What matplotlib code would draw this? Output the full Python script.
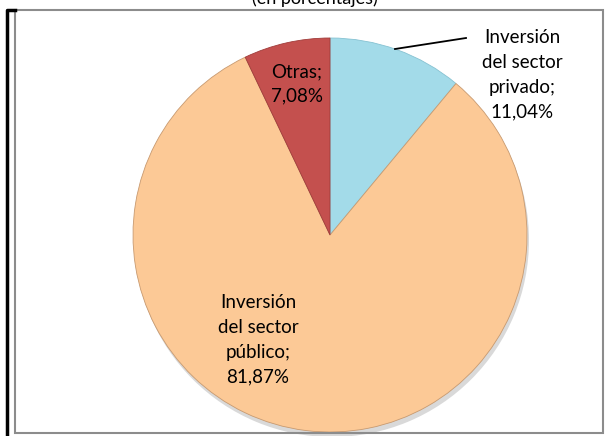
import matplotlib.pyplot as plt
from matplotlib.patches import Rectangle

labels = ["Inversión\ndel sector\nprivado;", "Inversión\ndel sector\npúblico;", "Otras;"]
values = [11.04, 81.87, 7.08]
colors = ["#a3dbe9", "#fcc996", "#c4504e"]

plt.rcParams["font.family"] = ["Lato", "DejaVu Sans"]

W, H = 607, 436
fig = plt.figure(figsize=(W / 100, H / 100), dpi=100)
ax = fig.add_axes([0, 0, 1, 1])

# soft shadow under the pie
cx, cy, r = 330, H - 235, 197
ax.pie([1], colors=["#d9d9d9"], radius=r, center=(cx + 2, cy - 5),
       wedgeprops=dict(linewidth=0), frame=True)
wedges, _ = ax.pie(values, colors=colors, radius=r, center=(cx, cy),
                   startangle=90, counterclock=False, frame=True,
                   wedgeprops=dict(edgecolor="#c89a70", linewidth=0.6))
wedges[0].set_edgecolor("#86c2d2")
wedges[2].set_edgecolor("#a03c3a")

ax.set_xlim(0, W)
ax.set_ylim(0, H)
ax.set_aspect("equal")
ax.axis("off")

# frame
ax.add_patch(Rectangle((15, 3), 588, 423, fill=False, edgecolor="#8c8c8c", lw=1.5))
ax.plot([7, 7, 15], [0, 426, 426], color="black", lw=2.5)

# title, cut off at the top as in the original
ax.text(315, H + 1, "(en porcentajes)", ha="center", va="center", fontsize=13)

pct = [("%.2f%%" % v).replace(".", ",") for v in values]

kw = dict(ha="center", va="center", fontsize=13.5, linespacing=1.55)
ax.text(522, H - 75, labels[0] + "\n" + pct[0], **kw)
ax.plot([395, 466], [H - 49, H - 38], color="black", lw=1.3)
ax.text(258, H - 340, labels[1] + "\n" + pct[1], **kw)
ax.text(297, H - 84, labels[2] + "\n" + pct[2], **kw)

fig.savefig("out.png", dpi=100)
